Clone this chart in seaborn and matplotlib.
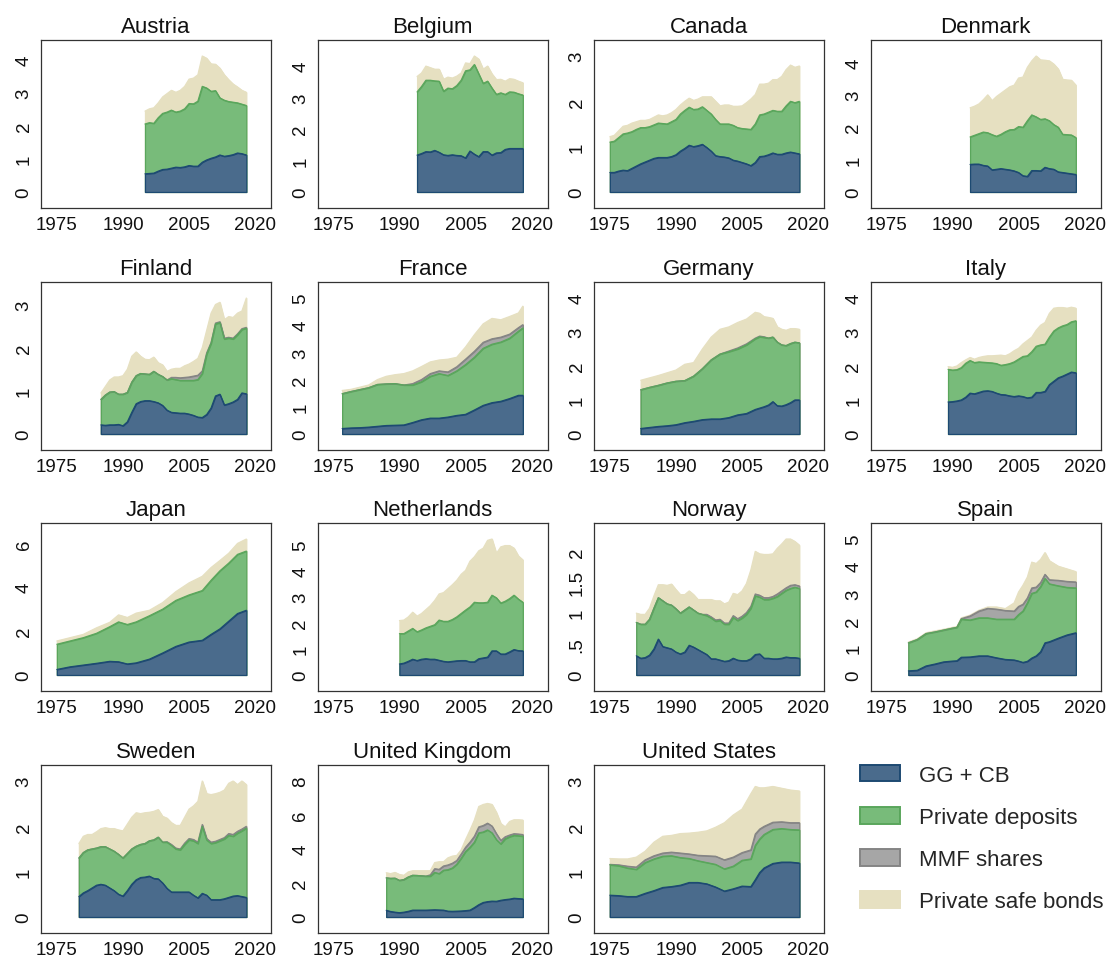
import numpy as np
import pandas as pd
import matplotlib
matplotlib.use("Agg")
import matplotlib.pyplot as plt
import seaborn as sns
from matplotlib.patches import Patch

sns.set_style("white")
plt.rcParams['font.family'] = ['Liberation Sans', 'DejaVu Sans']

# ---------------- data (share of GDP), components of safe assets ----------------
SERIES_LABELS = ["GG + CB", "Private deposits", "MMF shares", "Private safe bonds"]
X_TICKS = [1975, 1990, 2005, 2020]

AUT_YEARS = list(range(1995, 2019))
AUT_GG = [.55,.56,.57,.63,.68,.69,.72,.75,.74,.76,.80,.78,.78,.90,.97,1.02,1.06,1.12,1.08,1.10,1.13,1.18,1.16,1.12]
AUT_DEP = [1.51,1.54,1.51,1.62,1.70,1.73,1.76,1.67,1.71,1.76,1.88,1.89,1.97,2.30,2.18,2.03,2.01,1.73,1.70,1.64,1.59,1.52,1.50,1.50]
AUT_BONDS = [.39,.42,.47,.45,.50,.56,.60,.60,.63,.68,.74,.78,.80,.92,.90,.83,.80,.90,.77,.66,.55,.48,.42,.40]
AUT_TICKS = [0, 1, 2, 3, 4]

BEL_YEARS = list(range(1994, 2019))
BEL_GG = [1.17,1.22,1.28,1.27,1.32,1.26,1.18,1.16,1.18,1.16,1.15,1.08,1.30,1.20,1.12,1.28,1.28,1.17,1.24,1.25,1.35,1.38,1.38,1.38,1.38]
BEL_DEP = [2.01,2.13,2.27,2.28,2.21,2.26,2.02,2.14,2.10,2.22,2.40,2.77,2.58,2.85,2.63,2.17,2.24,2.13,1.86,1.90,1.75,1.80,1.79,1.74,1.70]
BEL_BONDS = [.49,.43,.45,.40,.37,.38,.38,.35,.34,.30,.23,.25,.20,.27,.47,.45,.48,.45,.47,.43,.42,.42,.41,.40,.39]
BEL_TICKS = [0, 1, 2, 3, 4]

CAN_YEARS = list(range(1975, 2019))
CAN_GG = [.43,.43,.46,.48,.47,.52,.57,.62,.66,.70,.74,.76,.76,.76,.78,.82,.90,.96,1.03,1.00,
          1.02,1.05,.98,.90,.80,.78,.77,.75,.70,.68,.65,.62,.58,.65,.78,.79,.82,.86,.83,.83,
          .86,.88,.86,.84]
CAN_DEP = [.67,.69,.74,.80,.83,.81,.81,.80,.76,.74,.74,.76,.75,.74,.77,.78,.82,.84,.84,.82,
           .81,.83,.82,.82,.80,.72,.73,.75,.77,.74,.75,.77,.80,.85,.92,.93,.94,.94,.95,.95,
           1.04,1.12,1.11,1.16]
CAN_BONDS = [.12,.13,.15,.17,.17,.19,.17,.16,.16,.16,.17,.18,.17,.20,.20,.22,.20,.20,.20,.20,
             .22,.22,.30,.38,.40,.40,.42,.42,.42,.47,.50,.58,.67,.65,.68,.66,.64,.68,.70,.77,
             .80,.80,.78,.78]
CAN_TICKS = [0, 1, 2, 3]

DNK_YEARS = list(range(1994, 2019))
DNK_GG = [.85,.86,.86,.82,.80,.68,.70,.72,.70,.68,.65,.60,.50,.48,.66,.66,.65,.76,.72,.70,.62,.60,.58,.56,.54]
DNK_DEP = [.85,.89,.94,1.03,1.03,1.09,1.02,1.06,1.16,1.24,1.28,1.42,1.50,1.72,1.72,1.66,1.59,1.50,1.48,1.38,1.38,1.18,1.19,1.20,1.14]
DNK_BONDS = [.90,.90,.92,1.00,1.17,1.05,1.23,1.27,1.29,1.33,1.37,1.50,1.55,1.65,1.67,1.88,1.84,1.81,1.85,1.87,1.80,1.70,1.69,1.69,1.62]
DNK_TICKS = [0, 1, 2, 3, 4]

FIN_YEARS = list(range(1985, 2019))
FIN_GG = [.21,.20,.21,.21,.22,.19,.28,.50,.70,.75,.77,.77,.75,.72,.66,.55,.50,.49,.48,.48,
          .46,.43,.39,.38,.45,.60,.88,.92,.67,.70,.74,.80,.95,.93]
FIN_DEP = [.59,.70,.76,.77,.70,.73,.68,.70,.65,.65,.62,.61,.70,.66,.67,.70,.78,.77,.76,.76,
           .78,.81,.87,1.02,1.40,1.50,1.67,1.66,1.53,1.52,1.46,1.50,1.47,1.52]
FIN_MMF = [0,0,0,0,0,0,0,0,0,0,0,0,0,0,0,0,.03,.05,.06,.07,
           .08,.10,.10,.06,.03,.02,.02,.02,.02,.02,.02,.02,.02,.02]
FIN_BONDS = [.15,.20,.28,.34,.40,.43,.54,.60,.55,.40,.34,.34,.33,.27,.27,.20,.19,.21,.22,.27,
             .30,.34,.39,.54,.52,.68,.43,.45,.43,.48,.48,.48,.41,.68]
FIN_TICKS = [0, 1, 2, 3]

FRA_YEARS = [1977,1979,1981,1983,1985,1987,1989,1991,1993,1995,1997,1999,2001,2003,2005,2007,2009,2011,2013,2015,2017,2018]
FRA_GG = [.20,.22,.23,.25,.28,.31,.32,.33,.42,.52,.58,.58,.62,.68,.72,.88,1.05,1.15,1.20,1.30,1.42,1.42]
FRA_DEP = [1.28,1.34,1.40,1.45,1.54,1.53,1.53,1.47,1.38,1.40,1.54,1.64,1.53,1.64,1.83,1.94,2.10,2.15,2.18,2.22,2.36,2.48]
FRA_MMF = [0,0,0,0,0,0,0,0,.05,.08,.10,.10,.13,.15,.20,.22,.22,.20,.18,.15,.13,.12]
FRA_BONDS = [.12,.08,.09,.10,.18,.28,.33,.42,.47,.48,.43,.40,.47,.35,.45,.61,.68,.75,.64,.65,.54,.68]
FRA_TICKS = [0, 1, 2, 3, 4, 5]

DEU_YEARS = [1982,1984,1986,1988,1990,1992,1994,1996,1998,2000,2002,2004,2006,
             2008,2009,2010,2011,2012,2013,2014,2015,2016,2017,2018]
DEU_GG = [.16,.19,.22,.24,.27,.33,.37,.42,.44,.44,.48,.56,.60,.72,.76,.80,.85,.95,.83,.82,.86,.92,1.00,1.00]
DEU_DEP = [1.14,1.18,1.21,1.26,1.28,1.24,1.33,1.50,1.74,1.91,1.94,1.94,2.02,2.08,2.10,2.04,1.97,1.90,1.87,1.80,1.74,1.74,1.70,1.68]
DEU_MMF = [0,0,0,0,0,0,0,0,0,0,.02,.03,.03,.02,.02,.02,0,0,0,0,0,0,0,0]
DEU_BONDS = [.28,.28,.29,.30,.33,.48,.40,.58,.67,.73,.71,.75,.73,.76,.67,.59,.61,.55,.45,.46,.45,.44,.40,.40]
DEU_TICKS = [0, 1, 2, 3, 4]

ITA_YEARS = list(range(1989, 2019))
ITA_GG = [.94,.95,.97,1.00,1.08,1.20,1.18,1.22,1.26,1.27,1.25,1.20,1.16,1.15,1.12,1.10,1.12,1.10,1.06,1.08,
          1.22,1.22,1.25,1.45,1.55,1.65,1.70,1.76,1.82,1.80]
ITA_DEP = [.96,.93,.92,.95,1.00,.96,.92,.90,.85,.83,.84,.87,.86,.89,.95,1.02,1.08,1.18,1.24,1.34,
           1.36,1.40,1.39,1.40,1.48,1.47,1.48,1.46,1.48,1.53]
ITA_BONDS = [.08,.08,.11,.15,.10,.09,.10,.13,.17,.20,.21,.24,.30,.26,.29,.33,.32,.37,.45,.43,
             .47,.58,.64,.70,.67,.60,.54,.48,.43,.37]
ITA_TICKS = [0, 1, 2, 3, 4]

JPN_YEARS = [1975,1978,1981,1984,1987,1989,1991,1993,1996,1999,2002,2005,2008,2010,2012,2014,2016,2018]
JPN_GG = [.25,.37,.45,.53,.62,.60,.50,.55,.72,1.00,1.30,1.50,1.58,1.85,2.10,2.45,2.80,2.95]
JPN_DEP = [1.15,1.18,1.25,1.37,1.58,1.82,1.80,1.87,1.98,2.00,2.10,2.15,2.27,2.47,2.65,2.65,2.70,2.70]
JPN_BONDS = [.15,.15,.15,.25,.20,.32,.32,.40,.25,.30,.40,.55,.65,.58,.47,.45,.50,.55]
JPN_TICKS = [0, 2, 4, 6]

NLD_YEARS = list(range(1990, 2019))
NLD_GG = [.42,.45,.52,.60,.55,.60,.62,.60,.60,.56,.52,.50,.52,.54,.55,.55,.50,.50,.62,.65,
          .68,.92,.92,.80,.80,.88,.97,.93,.92]
NLD_DEP = [1.16,1.13,1.16,1.18,1.10,1.12,1.18,1.26,1.32,1.54,1.53,1.55,1.60,1.68,1.80,1.93,2.10,2.28,2.14,2.11,
           2.10,2.13,2.03,1.95,2.02,2.04,2.08,1.97,1.86]
NLD_BONDS = [.50,.52,.54,.62,.60,.63,.70,.79,.93,1.00,1.10,1.25,1.33,1.40,1.50,1.52,1.75,1.74,1.99,2.09,
             2.37,2.15,1.70,2.15,2.13,2.03,1.80,1.65,1.62]
NLD_TICKS = [0, 1, 2, 3, 4, 5]

NOR_YEARS = list(range(1981, 2019))
NOR_GG = [.31,.27,.28,.32,.42,.58,.46,.44,.42,.37,.34,.37,.48,.45,.41,.37,.33,.26,.26,.24,
          .22,.23,.27,.24,.23,.23,.26,.33,.34,.27,.27,.26,.26,.27,.29,.28,.28,.27]
NOR_DEP = [.54,.55,.54,.58,.66,.67,.74,.71,.71,.70,.66,.68,.62,.60,.59,.61,.63,.66,.61,.64,
           .60,.59,.66,.64,.69,.75,.82,.95,.92,.95,.95,.98,1.01,1.05,1.08,1.12,1.14,1.13]
NOR_MMF = [0,0,0,0,0,0,0,0,0,0,0,0,0,0,0,0,.02,.02,.02,.02,
           .02,.02,.03,.03,.03,.03,.03,.03,.03,.03,.03,.03,.04,.04,.04,.05,.04,.04]
NOR_BONDS = [.15,.16,.16,.18,.20,.21,.26,.30,.34,.31,.30,.25,.26,.25,.22,.24,.24,.28,.31,.30,
             .31,.34,.36,.39,.41,.47,.59,.69,.67,.70,.70,.69,.74,.76,.79,.75,.70,.66]
NOR_TICKS = [0, 0.5, 1, 1.5, 2]

ESP_YEARS = [1980,1982,1984,1986,1988,1990,1991,1992,1994,1996,1998,2000,2002,2004,
             2005,2006,2007,2008,2009,2010,2011,2012,2014,2016,2018]
ESP_GG = [.15,.17,.33,.40,.48,.51,.52,.65,.66,.70,.70,.63,.57,.55,.51,.46,.50,.62,.70,.85,1.18,1.22,1.35,1.47,1.55]
ESP_DEP = [1.03,1.13,1.19,1.18,1.17,1.21,1.23,1.40,1.36,1.40,1.40,1.42,1.48,1.50,1.71,1.89,2.15,2.38,2.35,2.40,2.37,2.13,1.93,1.75,1.65]
ESP_MMF = [0,0,0,0,0,0,0,.02,.15,.25,.35,.37,.32,.30,.30,.25,.18,.20,.18,.15,.15,.15,.20,.22,.22]
ESP_BONDS = [.03,.03,.03,.04,.03,.03,.03,.03,.03,.03,.05,.08,.07,.30,.53,.70,.77,.95,.87,.85,.80,.70,.52,.46,.38]
ESP_TICKS = [0, 1, 2, 3, 4, 5]

SWE_YEARS = list(range(1980, 2019))
SWE_GG = [.45,.53,.58,.64,.70,.72,.70,.64,.58,.50,.46,.58,.72,.82,.87,.88,.90,.85,.84,.75,
          .63,.55,.55,.55,.55,.55,.48,.42,.52,.48,.38,.38,.38,.40,.43,.46,.47,.45,.43]
SWE_DEP = [.85,.89,.90,.86,.82,.83,.85,.86,.87,.88,.84,.82,.78,.74,.73,.74,.78,.85,.92,.90,
           1.02,1.03,.95,.93,1.05,1.15,1.20,1.20,1.48,1.22,1.24,1.26,1.30,1.32,1.37,1.32,1.38,1.45,1.53]
SWE_MMF = [0,0,0,0,0,0,0,0,0,0,0,0,0,0,0,0,0,0,0,0,
           .01,.02,.02,.02,.03,.03,.03,.03,.04,.03,.03,.03,.03,.03,.04,.04,.04,.04,.04]
SWE_BONDS = [.32,.36,.34,.32,.36,.40,.42,.45,.50,.54,.60,.65,.70,.74,.68,.68,.63,.63,.61,.57,
             .52,.48,.50,.52,.57,.65,.74,.90,.96,.99,1.05,1.05,1.04,1.05,1.11,1.18,1.03,1.06,.92]
SWE_TICKS = [0, 1, 2, 3]

GBR_YEARS = list(range(1987, 2019))
GBR_GG = [.39,.32,.28,.25,.28,.33,.40,.40,.40,.40,.41,.42,.41,.40,.34,.33,.34,.35,.37,.40,
          .55,.72,.85,.90,.93,.92,.98,1.02,1.05,1.10,1.08,1.06]
GBR_DEP = [1.91,1.95,2.00,1.90,1.92,2.02,2.05,2.04,2.02,2.00,1.99,2.20,2.14,2.35,2.44,2.55,2.76,3.10,3.48,3.70,
           3.85,4.23,4.15,4.22,4.02,3.63,3.32,3.58,3.67,3.70,3.70,3.69]
GBR_MMF = [0,0,0,0,0,0,0,0,0,0,.08,.22,.25,.25,.28,.28,.22,.25,.25,.30,
           .35,.35,.38,.40,.40,.35,.20,.12,.10,.10,.10,.10]
GBR_BONDS = [.30,.28,.34,.35,.25,.30,.27,.28,.30,.32,.24,.36,.45,.25,.42,.42,.30,.25,.45,.70,
             .95,1.20,1.24,1.16,1.27,1.25,1.00,.58,.80,.82,.84,.85]
GBR_TICKS = [0, 2, 4, 6, 8]

USA_YEARS = [1975,1977,1979,1981,1983,1985,1987,1989,1991,1993,1995,1997,1999,2001,2003,2005,2007,
             2008,2009,2010,2012,2014,2016,2018]
USA_GG = [.48,.47,.45,.45,.52,.58,.65,.67,.70,.76,.76,.73,.66,.57,.62,.68,.67,.82,.98,1.08,1.18,1.21,1.21,1.19]
USA_DEP = [.67,.66,.63,.60,.68,.70,.69,.68,.61,.53,.48,.47,.50,.49,.50,.57,.61,.76,.74,.74,.75,.74,.72,.73]
USA_MMF = [.01,.02,.04,.05,.06,.07,.07,.08,.10,.10,.12,.15,.18,.20,.20,.17,.20,.25,.22,.18,.16,.15,.15,.16]
USA_BONDS = [.13,.13,.16,.22,.19,.30,.37,.37,.43,.46,.51,.55,.64,.82,.93,.96,1.24,1.05,.91,.85,.79,.74,.72,.70]
USA_TICKS = [0, 1, 2, 3]

PANELS = [
    ("Austria", AUT_YEARS, AUT_GG, AUT_DEP, None, AUT_BONDS, AUT_TICKS),
    ("Belgium", BEL_YEARS, BEL_GG, BEL_DEP, None, BEL_BONDS, BEL_TICKS),
    ("Canada", CAN_YEARS, CAN_GG, CAN_DEP, None, CAN_BONDS, CAN_TICKS),
    ("Denmark", DNK_YEARS, DNK_GG, DNK_DEP, None, DNK_BONDS, DNK_TICKS),
    ("Finland", FIN_YEARS, FIN_GG, FIN_DEP, FIN_MMF, FIN_BONDS, FIN_TICKS),
    ("France", FRA_YEARS, FRA_GG, FRA_DEP, FRA_MMF, FRA_BONDS, FRA_TICKS),
    ("Germany", DEU_YEARS, DEU_GG, DEU_DEP, DEU_MMF, DEU_BONDS, DEU_TICKS),
    ("Italy", ITA_YEARS, ITA_GG, ITA_DEP, None, ITA_BONDS, ITA_TICKS),
    ("Japan", JPN_YEARS, JPN_GG, JPN_DEP, None, JPN_BONDS, JPN_TICKS),
    ("Netherlands", NLD_YEARS, NLD_GG, NLD_DEP, None, NLD_BONDS, NLD_TICKS),
    ("Norway", NOR_YEARS, NOR_GG, NOR_DEP, NOR_MMF, NOR_BONDS, NOR_TICKS),
    ("Spain", ESP_YEARS, ESP_GG, ESP_DEP, ESP_MMF, ESP_BONDS, ESP_TICKS),
    ("Sweden", SWE_YEARS, SWE_GG, SWE_DEP, SWE_MMF, SWE_BONDS, SWE_TICKS),
    ("United Kingdom", GBR_YEARS, GBR_GG, GBR_DEP, GBR_MMF, GBR_BONDS, GBR_TICKS),
    ("United States", USA_YEARS, USA_GG, USA_DEP, USA_MMF, USA_BONDS, USA_TICKS),
]

# ---------------- style ----------------
FILLS = ["#4a6b8c", "#78bb7a", "#a6a6a6", "#e6e0c1"]
EDGES = ["#1d4a72", "#5aa65c", "#858585", "#e6e0c1"]
SPINE = "#333333"

W, H = 1109, 962
COL_LEFT = [41, 317.5, 594, 870.5]
ROW_TOP = [41, 283, 524, 766]
AX_W, AX_H = 230, 168

fig = plt.figure(figsize=(W / 100, H / 100), dpi=100)


def fmt_tick(v):
    s = f"{v:g}"
    if s.startswith("0."):
        s = s[1:]
    return s


for i, (name, years, gg, dep, mmf, bonds, yt) in enumerate(PANELS):
    r, c = divmod(i, 4)
    ax = fig.add_axes([COL_LEFT[c] / W, 1 - (ROW_TOP[r] + AX_H) / H, AX_W / W, AX_H / H])
    yrs = np.array(years, dtype=float)
    c1 = np.array(gg)
    c2 = c1 + np.array(dep)
    c3 = c2 + (np.array(mmf) if mmf is not None else 0)
    c4 = c3 + np.array(bonds)

    layers = [(c4, 3), (c3, 2), (c2, 1), (c1, 0)]
    for lev, k in layers:
        if k == 2 and mmf is None:
            continue
        ax.fill_between(yrs, 0, lev, facecolor=FILLS[k], edgecolor=EDGES[k],
                        linewidth=0.9, zorder=2 + (3 - k))

    # top edges of each layer through seaborn
    rows = []
    for lev, k in layers:
        if k == 2 and mmf is None:
            continue
        for x, y in zip(yrs, lev):
            rows.append({"year": x, "level": y, "layer": SERIES_LABELS[k]})
    df = pd.DataFrame(rows)
    pal = {SERIES_LABELS[k]: EDGES[k] for k in range(4)}
    sns.lineplot(data=df, x="year", y="level", hue="layer", palette=pal,
                 estimator=None, linewidth=0.9, legend=False, ax=ax, zorder=7)

    R = max(c4.max(), max(yt))
    ax.set_ylim(-0.118 * R, 1.118 * R)
    ax.set_xlim(1971.4, 2023.6)
    ax.set_xticks(X_TICKS)
    ax.set_xticklabels([str(t) for t in X_TICKS])
    ax.set_yticks(yt)
    ax.set_yticklabels([fmt_tick(t) for t in yt], rotation=90, va="center")
    ax.set_xlabel("")
    ax.set_ylabel("")
    ax.tick_params(axis="both", which="major", direction="out", length=4.5, width=0.9,
                   color=SPINE, labelsize=13.5, pad=1.5, labelcolor="#111111")
    for sp in ax.spines.values():
        sp.set_visible(True)
        sp.set_color(SPINE)
        sp.set_linewidth(0.9)
    ax.grid(False)
    ax.set_title(name, fontsize=16, pad=6, color="#111111")

handles = [Patch(facecolor=FILLS[k], edgecolor=EDGES[k], linewidth=1.4, label=SERIES_LABELS[k])
           for k in range(4)]
fig.legend(handles=handles, loc="upper left", bbox_to_anchor=(859.5 / W, 1 - 766 / H),
           frameon=False, fontsize=16, handlelength=1.8, handleheight=0.75,
           handletextpad=0.88, labelspacing=0.95, borderpad=0, borderaxespad=0)

fig.savefig("out.png", dpi=100)
